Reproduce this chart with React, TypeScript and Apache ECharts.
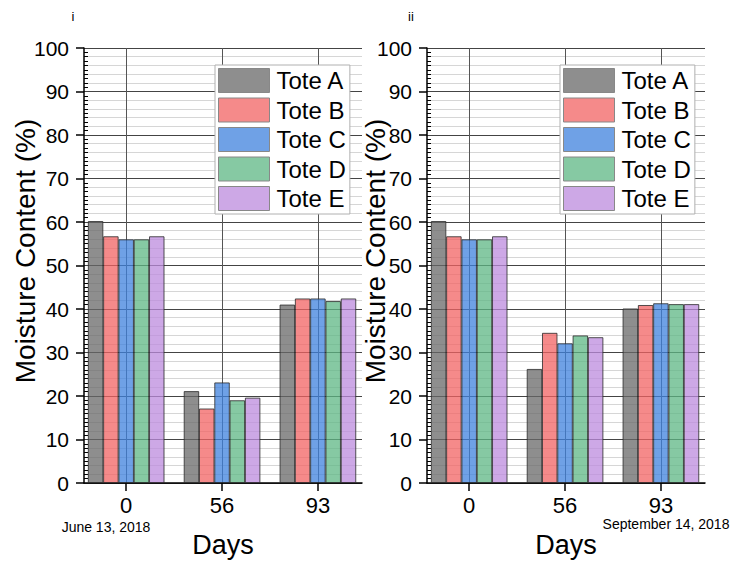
import React, { useEffect, useRef } from "react";
import * as echarts from "echarts";

const totes = ["Tote A", "Tote B", "Tote C", "Tote D", "Tote E"];
const dayLabels = ["0", "56", "93"];
const yTicks = [0, 10, 20, 30, 40, 50, 60, 70, 80, 90, 100];

// Panel i (values per day 0, 56, 93)
const panelI_toteA = [60.2, 21.1, 41.0];
const panelI_toteB = [56.7, 17.1, 42.4];
const panelI_toteC = [56.0, 23.1, 42.4];
const panelI_toteD = [56.0, 19.0, 41.8];
const panelI_toteE = [56.7, 19.6, 42.4];

// Panel ii
const panelII_toteA = [60.2, 26.2, 40.1];
const panelII_toteB = [56.7, 34.5, 40.9];
const panelII_toteC = [56.0, 32.1, 41.3];
const panelII_toteD = [56.0, 33.9, 41.1];
const panelII_toteE = [56.7, 33.5, 41.1];

const panelI = [panelI_toteA, panelI_toteB, panelI_toteC, panelI_toteD, panelI_toteE];
const panelII = [panelII_toteA, panelII_toteB, panelII_toteC, panelII_toteD, panelII_toteE];

const colors = [
  "rgba(104,104,104,0.75)",
  "rgba(242,99,99,0.75)",
  "rgba(63,130,222,0.75)",
  "rgba(94,183,132,0.75)",
  "rgba(188,139,222,0.75)",
];

const FONT = "'Liberation Sans', Arial, sans-serif";

export default function App() {
  const ref = useRef<HTMLDivElement>(null);
  useEffect(() => {
    if (!ref.current) return;
    const chart = echarts.init(ref.current, undefined, { renderer: "svg" });
    const dayIdx = dayLabels.map((_, i) => i);
    const grids = [
      { left: 84, top: 48, width: 278, height: 435 },
      { left: 427, top: 48, width: 278, height: 435 },
    ];
    const xAxes: any[] = [];
    const yAxes: any[] = [];
    grids.forEach((_, g) => {
      xAxes.push({
        type: "value",
        gridIndex: g,
        min: -0.44,
        max: 2.46,
        splitNumber: 3,
        name: "Days",
        nameLocation: "middle",
        nameGap: 48,
        nameTextStyle: { fontSize: 27, color: "#000", fontFamily: FONT },
        axisLine: { show: true, onZero: false, lineStyle: { color: "#000", width: 1.5 } },
        axisTick: { show: true, customValues: dayIdx, length: 8, lineStyle: { color: "#000", width: 1.5 } },
        axisLabel: {
          customValues: dayIdx,
          formatter: (v: number) => dayLabels[Math.round(v)] ?? "",
          fontSize: 22,
          color: "#000",
          fontFamily: FONT,
          margin: 11,
        },
        splitLine: {
          show: true,
          customValues: dayIdx,
          showMinLine: true,
          showMaxLine: true,
          lineStyle: { color: "#555", width: 1 },
        },
      });
      yAxes.push({
        type: "value",
        gridIndex: g,
        position: "left",
        min: 0,
        max: 100,
        interval: 10,
        axisLine: { show: true, onZero: false, lineStyle: { color: "#000", width: 1.5 } },
        axisTick: { show: true, length: 8, lineStyle: { color: "#000", width: 1.5 } },
        axisLabel: {
          fontSize: 21,
          color: "#000",
          fontFamily: FONT,
          margin: 15,
          customValues: yTicks,
        },
        minorTick: { show: false, splitNumber: 5 },
        splitLine: { show: true, lineStyle: { color: "#444", width: 1 } },
        minorSplitLine: { show: true, lineStyle: { color: "#d6d6d6", width: 1 } },
      });
    });
    grids.forEach((_, g) => {
      yAxes.push({
        type: "value",
        gridIndex: g,
        position: "left",
        offset: 0,
        min: 0,
        max: 100,
        interval: 10,
        axisLine: { show: false, onZero: false },
        axisTick: { show: false, inside: true },
        axisLabel: { show: false },
        splitLine: { show: false },
        minorTick: { show: true, splitNumber: 10, length: 4, lineStyle: { color: "#000", width: 1 } },
        minorSplitLine: { show: false },
      });
    });

    const series: any[] = [];
    [panelI, panelII].forEach((panel, g) => {
      panel.forEach((vals, k) => {
        series.push({
          type: "bar",
          name: totes[k],
          xAxisIndex: g,
          yAxisIndex: g,
          barWidth: 15.3,
          barGap: "0%",
          data: vals.map((v, i) => [dayIdx[i], v]),
          itemStyle: { color: colors[k], borderColor: "#2a2a2a", borderWidth: 0.8 },
          emphasis: { disabled: true },
        });
      });
    });

    const legendBase = {
      orient: "vertical",
      top: 65,
      itemWidth: 51,
      itemHeight: 24,
      itemGap: 4.5,
      padding: [3, 4, 3, 3],
      backgroundColor: "#fff",
      borderColor: "#b0b0b0",
      borderWidth: 1,
      selectedMode: false,
      icon: "rect",
      itemStyle: { borderColor: "#888", borderWidth: 1 },
      textStyle: { fontSize: 24, color: "#000", fontFamily: FONT, padding: [0, 0, 0, 2] },
      data: totes,
    };

    chart.setOption({
      animation: false,
      textStyle: { fontFamily: FONT },
      grid: grids,
      xAxis: xAxes,
      yAxis: yAxes,
      legend: [
        { ...legendBase, left: 215 },
        { ...legendBase, left: 560 },
      ],
      series,
      graphic: [
        { type: "text", x: 73, y: 16, style: { text: "i", fontSize: 13, fontFamily: FONT, fill: "#000", textAlign: "center", textVerticalAlign: "middle" } },
        { type: "text", x: 411, y: 16, style: { text: "ii", fontSize: 13, fontFamily: FONT, fill: "#000", textAlign: "center", textVerticalAlign: "middle" } },
        { type: "text", x: 25, y: 251, rotation: Math.PI / 2, style: { text: "Moisture Content (%)", fontSize: 28, fontFamily: FONT, fill: "#000", textAlign: "center", textVerticalAlign: "middle" } },
        { type: "text", x: 375, y: 251, rotation: Math.PI / 2, style: { text: "Moisture Content (%)", fontSize: 28, fontFamily: FONT, fill: "#000", textAlign: "center", textVerticalAlign: "middle" } },
        { type: "text", x: 106, y: 527, style: { text: "June 13, 2018", fontSize: 14, fontFamily: FONT, fill: "#000", textAlign: "center", textVerticalAlign: "middle" } },
        { type: "text", x: 666, y: 524, style: { text: "September 14, 2018", fontSize: 14, fontFamily: FONT, fill: "#000", textAlign: "center", textVerticalAlign: "middle" } },
      ],
    });
    return () => chart.dispose();
  }, []);
  return (
    <div
      ref={ref}
      style={{ position: "fixed", left: 0, top: 0, width: 734, height: 565, background: "#fff" }}
    />
  );
}
